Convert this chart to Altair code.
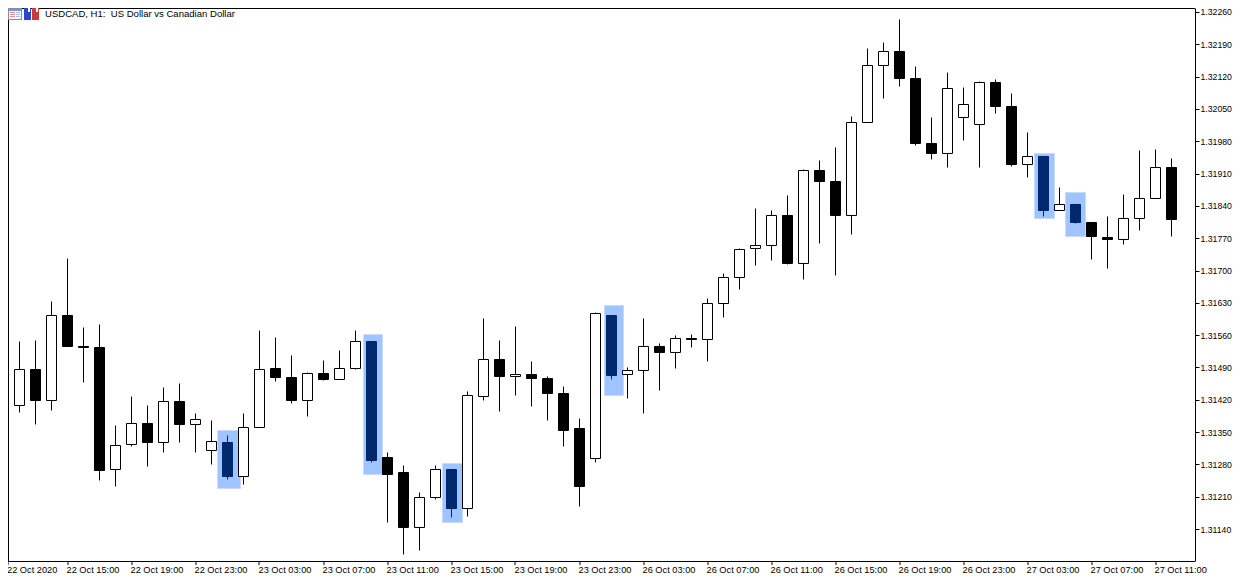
import json
import altair as alt
import pandas as pd

HIGH = [1.314357,1.315462,1.315484,1.316328,1.317260,1.315765,1.315830,1.313642,1.314270,1.314075,
        1.314465,1.314552,1.313902,1.313751,1.313426,1.313902,1.315700,1.315549,1.315159,1.314790,
        1.315050,1.315267,1.315700,1.315462,1.313057,1.312776,1.312191,1.312776,1.312689,1.314379,
        1.315960,1.315484,1.315787,1.315029,1.314704,1.314487,1.313794,1.316090,1.316025,1.314899,
        1.315960,1.315419,1.315592,1.315614,1.316393,1.316935,1.317477,1.318343,1.318300,1.318625,
        1.319188,1.319383,1.319665,1.320336,1.321809,1.321939,1.322438,1.321419,1.320315,1.321289,
        1.320964,1.321094,1.321138,1.320834,1.319990,1.319470,1.318798,1.318430,1.318040,1.318170,
        1.318646,1.319600,1.319621,1.319426]
LOW = [1.314075,1.313924,1.313664,1.313967,1.315354,1.314574,1.312451,1.312321,1.313187,1.312754,
       1.313057,1.313274,1.313057,1.312797,1.312472,1.312364,1.313599,1.314595,1.314119,1.313837,
       1.314617,1.314639,1.314855,1.312841,1.311541,1.310848,1.310934,1.312039,1.311649,1.311671,
       1.314184,1.313945,1.314292,1.314054,1.313751,1.313187,1.311887,1.312841,1.314639,1.314227,
       1.313902,1.314400,1.314877,1.315332,1.315029,1.315982,1.316588,1.317108,1.317217,1.317130,
       1.316805,1.317585,1.316892,1.317780,1.320206,1.320726,1.320986,1.319708,1.319405,1.319231,
       1.319816,1.319231,1.320401,1.319253,1.319015,1.318170,1.318300,1.318018,1.317238,1.317043,
       1.317563,1.317867,1.318560,1.317737]
BODY_TOP = [1.314357,1.314855,1.314855,1.316025,1.316025,1.315354,1.315332,1.313209,1.313686,1.313686,
            1.314162,1.314162,1.313772,1.313296,1.313274,1.313599,1.314855,1.314877,1.314682,1.314769,
            1.314769,1.314877,1.315462,1.315462,1.312949,1.312624,1.312082,1.312689,1.312689,1.314292,
            1.315072,1.315072,1.314747,1.314747,1.314660,1.314335,1.313577,1.316068,1.316025,1.314834,
            1.315354,1.315354,1.315527,1.315527,1.316285,1.316848,1.317455,1.317542,1.318192,1.318192,
            1.319166,1.319166,1.318928,1.320206,1.321441,1.321744,1.321744,1.321159,1.319751,1.320943,
            1.320596,1.321073,1.321073,1.320553,1.319470,1.319470,1.318430,1.318430,1.318040,1.317715,
            1.318127,1.318560,1.319231,1.319231]
BODY_BOTTOM = [1.314075,1.314075,1.314184,1.314184,1.315354,1.315332,1.312667,1.312689,1.313231,1.313274,
               1.313274,1.313664,1.313664,1.313101,1.312537,1.312537,1.313599,1.314682,1.314184,1.314184,
               1.314639,1.314639,1.314877,1.312884,1.312581,1.311433,1.311433,1.312082,1.311844,1.311844,
               1.314270,1.314704,1.314704,1.314660,1.314335,1.313534,1.312321,1.312927,1.314725,1.314747,
               1.314834,1.315224,1.315224,1.315505,1.315505,1.316285,1.316848,1.317477,1.317542,1.317152,
               1.317152,1.318928,1.318192,1.318192,1.320206,1.321441,1.321159,1.319751,1.319535,1.319535,
               1.320315,1.320163,1.320553,1.319296,1.319296,1.318300,1.318300,1.318040,1.317737,1.317672,
               1.317672,1.318127,1.318560,1.318105]
# w = rising candle, b = falling candle, h = falling candle marked as a pattern
KIND = list("bwbwbbbwwbwbwwhwwbbwbwwhbbwwhwwbwbbbbwhw"
            "wbwbwwwwwbwbbwwwbbbwwwbbwhwhbbwwwb")

BOX_X1 = [13.375, 22.5, 27.4375, 37.5625, 64.4375, 66.375]
BOX_X2 = [14.8125, 23.6875, 28.6875, 38.75, 65.6875, 67.625]
BOX_HI = [1.313534, 1.315614, 1.312819, 1.316242, 1.319535, 1.318690]
BOX_LO = [1.312277, 1.312581, 1.311541, 1.314292, 1.318126, 1.317737]

DATE_LABELS = ["22 Oct 2020", "22 Oct 15:00", "22 Oct 19:00", "22 Oct 23:00", "23 Oct 03:00",
               "23 Oct 07:00", "23 Oct 11:00", "23 Oct 15:00", "23 Oct 19:00", "23 Oct 23:00",
               "26 Oct 03:00", "26 Oct 07:00", "26 Oct 11:00", "26 Oct 15:00", "26 Oct 19:00",
               "26 Oct 23:00", "27 Oct 03:00", "27 Oct 07:00", "27 Oct 11:00"]
Y_TICKS = [1.31140, 1.31210, 1.31280, 1.31350, 1.31420, 1.31490, 1.31560, 1.31630,
           1.31700, 1.31770, 1.31840, 1.31910, 1.31980, 1.32050, 1.32120, 1.32190, 1.32260]
TITLE = "USDCAD, H1:\u00a0 US Dollar vs Canadian Dollar"

FONT = "Liberation Sans"
FS = 9.25
W, H = 1187, 553

df = pd.DataFrame({"i": range(len(HIGH)), "high": HIGH, "low": LOW,
                   "top": BODY_TOP, "bottom": BODY_BOTTOM, "kind": KIND})
boxes = pd.DataFrame({"x1": BOX_X1, "x2": BOX_X2, "hi": BOX_HI, "lo": BOX_LO})
one = pd.DataFrame({"a": [0]})

x_scale = alt.Scale(domain=[0.28125, 74.46875], nice=False, zero=False, padding=0)
y_scale = alt.Scale(domain=[1.3107068, 1.32268665], nice=False, zero=False, padding=0)
stroke_scale = alt.Scale(domain=["w", "b", "h"], range=["#000000", "#000000", "#00286e"])
fill_scale = alt.Scale(domain=["w", "b", "h"], range=["#ffffff", "#000000", "#00286e"])

x_ticks = [0.28125] + list(range(4, 73, 4))
x_axis = alt.Axis(values=x_ticks, title=None, grid=False, domain=False, translate=0,
                  tickColor="#000000", tickSize=4, tickWidth=1,
                  labelExpr=json.dumps(DATE_LABELS) + "[round(datum.value / 4)]",
                  labelAlign="left", labelBaseline="top", labelPadding=1, labelOffset=-1,
                  labelFont=FONT, labelFontSize=FS, labelColor="#000000",
                  labelBound=False, labelFlush=False, labelOverlap=False)
y_axis = alt.Axis(values=Y_TICKS, title=None, grid=False, orient="right", format=".5f",
                  domain=True, domainColor="#000000", tickColor="#000000", tickSize=4,
                  labelAlign="left", labelBaseline="middle", labelPadding=1,
                  labelFont=FONT, labelFontSize=8.7, labelColor="#000000",
                  labelBound=False, labelFlush=False, labelOverlap=False)


def pixel_rect(x, x2, y, y2, color):
    return alt.Chart(one).mark_rect(color=color).encode(
        x=alt.value(x), x2=alt.value(x2), y=alt.value(y), y2=alt.value(y2))


frame = [
    alt.Chart(one).mark_rule(color="#000000").encode(
        x=alt.value(0.5), y=alt.value(0), y2=alt.value(H)),
    alt.Chart(one).mark_rule(color="#000000").encode(
        y=alt.value(0.5), x=alt.value(0), x2=alt.value(W)),
    alt.Chart(one).mark_rule(color="#000000").encode(
        y=alt.value(H + 0.5), x=alt.value(0), x2=alt.value(W)),
]

highlight = alt.Chart(boxes).mark_rect(fill="#a0c4ff", stroke="#c6dbff", strokeWidth=1).encode(
    x=alt.X("x1:Q", scale=x_scale, axis=x_axis),
    x2="x2:Q",
    y=alt.Y("hi:Q", scale=y_scale, axis=y_axis),
    y2="lo:Q",
)

wicks = alt.Chart(df).mark_rule(strokeWidth=1, clip=True).encode(
    x=alt.X("i:Q", scale=x_scale, axis=x_axis),
    y=alt.Y("high:Q", scale=y_scale, axis=y_axis),
    y2="low:Q",
    color=alt.Color("kind:N", scale=stroke_scale, legend=None),
)

bodies = alt.Chart(df).mark_bar(size=10, strokeWidth=1, clip=True).encode(
    x=alt.X("i:Q", scale=x_scale, axis=x_axis),
    y=alt.Y("top:Q", scale=y_scale, axis=y_axis),
    y2="bottom:Q",
    fill=alt.Fill("kind:N", scale=fill_scale, legend=None),
    stroke=alt.Stroke("kind:N", scale=stroke_scale, legend=None),
)

icons = [
    pixel_rect(0, 14, 0, 12, "#7f8fa9"),
    pixel_rect(1, 13, 1, 11, "#f4f6fb"),
    pixel_rect(1, 13, 1, 3, "#7f97c8"),
    pixel_rect(2, 7, 4, 5, "#ef8f8f"),
    pixel_rect(2, 7, 6, 7, "#ef8f8f"),
    pixel_rect(2, 7, 8, 9, "#ef8f8f"),
    pixel_rect(8, 12, 4, 5, "#a9bde0"),
    pixel_rect(8, 12, 6, 7, "#a9bde0"),
    pixel_rect(8, 12, 8, 9, "#a9bde0"),
    pixel_rect(16, 23, 0, 12, "#2a48cf"),
    pixel_rect(24, 31, 0, 12, "#c93a3a"),
    pixel_rect(20, 22, 0, 4, "#ffffff"),
    pixel_rect(28, 30, 0, 4, "#ffffff"),
]

title = alt.Chart(one).mark_text(
    text=TITLE, align="left", baseline="middle", font=FONT, fontSize=9.55, color="#000000"
).encode(x=alt.value(37), y=alt.value(6))

chart = alt.layer(*frame, highlight, wicks, bodies, *icons, title).resolve_scale(
    fill="independent", stroke="independent", color="independent"
).properties(
    width=W, height=H,
    autosize=alt.AutoSizeParams(type="none"),
    padding={"left": 0, "top": 0, "right": 37, "bottom": 15},
    background="#ffffff",
).configure_view(stroke=None).configure_axis(labelOverlap=False)

chart.save("out.html", embed_options={"renderer": "svg", "actions": False})
